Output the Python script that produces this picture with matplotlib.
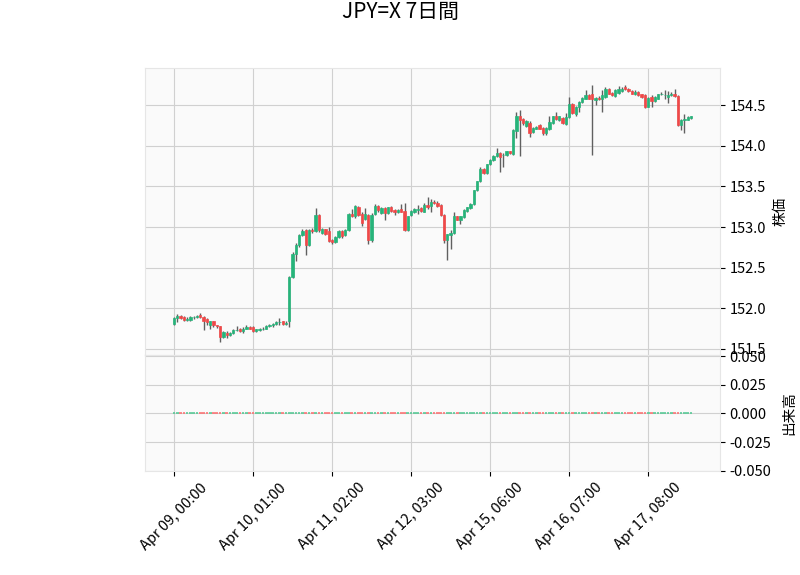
import numpy as np
import matplotlib
matplotlib.use("Agg")
import matplotlib.pyplot as plt
from matplotlib.ticker import FormatStrFormatter

plt.rcParams['font.family'] = ['Noto Sans CJK JP', 'DejaVu Sans']

# --- data: hourly JPY=X candles ---
opens = [
    151.81, 151.88, 151.91, 151.89, 151.86, 151.86, 151.89, 151.89, 151.92, 151.89,
    151.87, 151.79, 151.84, 151.79, 151.78, 151.65, 151.70, 151.67, 151.70, 151.73,
    151.74, 151.72, 151.75, 151.77, 151.77, 151.72, 151.73, 151.75, 151.75, 151.78,
    151.79, 151.81, 151.83, 151.84, 151.81, 151.84, 152.38, 152.67, 152.78, 152.90,
    152.96, 152.78, 152.96, 152.95, 153.15, 152.93, 152.97, 152.95, 152.84, 152.81,
    152.88, 152.95, 152.90, 152.96, 153.16, 153.13, 153.24, 153.16, 153.10, 153.15,
    152.84, 153.16, 153.26, 153.17, 153.23, 153.17, 153.25, 153.21, 153.18, 153.22,
    153.20, 152.96, 153.15, 153.18, 153.21, 153.23, 153.19, 153.27, 153.26, 153.31,
    153.30, 153.27, 153.15, 152.84, 152.90, 152.93, 153.13, 153.09, 153.12, 153.20,
    153.23, 153.28, 153.45, 153.57, 153.71, 153.66, 153.77, 153.82, 153.87, 153.91,
    153.88, 153.88, 153.93, 153.90, 154.18, 154.36, 154.33, 154.24, 154.28, 154.17,
    154.21, 154.25, 154.22, 154.15, 154.20, 154.28, 154.36, 154.31, 154.34, 154.27,
    154.35, 154.51, 154.39, 154.48, 154.54, 154.58, 154.62, 154.64, 154.56, 154.59,
    154.57, 154.60, 154.70, 154.65, 154.61, 154.65, 154.67, 154.72, 154.70, 154.67,
    154.63, 154.66, 154.63, 154.62, 154.48, 154.60, 154.55, 154.58, 154.63, 154.62,
    154.60, 154.62, 154.64, 154.61, 154.25, 154.32, 154.32, 154.34,
]
highs = [
    151.89, 151.93, 151.92, 151.90, 151.89, 151.90, 151.91, 151.92, 151.94, 151.90,
    151.88, 151.85, 151.85, 151.80, 151.78, 151.72, 151.72, 151.71, 151.74, 151.78,
    151.76, 151.77, 151.80, 151.78, 151.78, 151.75, 151.76, 151.77, 151.79, 151.81,
    151.82, 151.84, 151.88, 151.85, 151.85, 152.40, 152.69, 152.80, 152.91, 152.97,
    152.97, 152.98, 152.99, 153.23, 153.16, 152.99, 152.98, 153.00, 152.85, 152.89,
    152.96, 152.96, 152.97, 153.17, 153.22, 153.27, 153.26, 153.18, 153.23, 153.16,
    153.17, 153.28, 153.27, 153.24, 153.25, 153.25, 153.26, 153.22, 153.22, 153.28,
    153.29, 153.14, 153.21, 153.23, 153.27, 153.24, 153.29, 153.37, 153.34, 153.33,
    153.32, 153.28, 153.16, 152.92, 152.96, 153.19, 153.14, 153.14, 153.22, 153.25,
    153.30, 153.46, 153.57, 153.74, 153.72, 153.78, 153.84, 153.88, 153.97, 153.92,
    153.91, 153.94, 153.94, 154.20, 154.42, 154.44, 154.34, 154.32, 154.30, 154.23,
    154.24, 154.27, 154.23, 154.23, 154.36, 154.37, 154.42, 154.37, 154.35, 154.40,
    154.60, 154.52, 154.49, 154.55, 154.60, 154.68, 154.63, 154.75, 154.60, 154.61,
    154.68, 154.72, 154.71, 154.66, 154.70, 154.73, 154.72, 154.75, 154.71, 154.68,
    154.68, 154.67, 154.64, 154.63, 154.60, 154.62, 154.61, 154.64, 154.66, 154.68,
    154.67, 154.66, 154.70, 154.62, 154.33, 154.39, 154.36, 154.37,
]
lows = [
    151.80, 151.83, 151.87, 151.84, 151.85, 151.85, 151.87, 151.88, 151.88, 151.73,
    151.80, 151.75, 151.77, 151.76, 151.58, 151.63, 151.64, 151.66, 151.69, 151.72,
    151.71, 151.70, 151.74, 151.74, 151.71, 151.71, 151.72, 151.73, 151.74, 151.77,
    151.77, 151.80, 151.80, 151.79, 151.80, 151.77, 152.37, 152.58, 152.76, 152.89,
    152.65, 152.77, 152.93, 152.94, 152.94, 152.91, 152.90, 152.82, 152.79, 152.80,
    152.87, 152.87, 152.89, 152.95, 153.12, 153.11, 153.13, 153.01, 153.08, 152.79,
    152.82, 153.15, 153.19, 153.16, 153.09, 153.16, 153.19, 153.15, 153.17, 153.18,
    152.95, 152.95, 153.14, 153.17, 153.16, 153.19, 153.18, 153.22, 153.18, 153.28,
    153.25, 153.14, 152.80, 152.59, 152.73, 152.92, 153.08, 153.04, 153.11, 153.19,
    153.22, 153.27, 153.44, 153.55, 153.65, 153.65, 153.76, 153.81, 153.86, 153.68,
    153.74, 153.87, 153.90, 153.89, 154.10, 153.87, 154.26, 154.23, 154.11, 154.16,
    154.20, 154.20, 154.13, 154.13, 154.19, 154.27, 154.32, 154.30, 154.27, 154.25,
    154.34, 154.39, 154.37, 154.42, 154.53, 154.57, 154.57, 153.88, 154.50, 154.56,
    154.42, 154.59, 154.63, 154.61, 154.60, 154.64, 154.66, 154.69, 154.66, 154.63,
    154.62, 154.61, 154.59, 154.46, 154.47, 154.47, 154.54, 154.57, 154.62, 154.57,
    154.52, 154.61, 154.60, 154.24, 154.19, 154.15, 154.31, 154.33,
]
closes = [
    151.88, 151.90, 151.88, 151.86, 151.87, 151.89, 151.89, 151.90, 151.89, 151.85,
    151.83, 151.84, 151.79, 151.78, 151.65, 151.71, 151.67, 151.70, 151.73, 151.73,
    151.72, 151.75, 151.77, 151.75, 151.72, 151.74, 151.75, 151.75, 151.78, 151.80,
    151.81, 151.83, 151.83, 151.81, 151.82, 152.38, 152.67, 152.78, 152.90, 152.95,
    152.78, 152.96, 152.95, 153.15, 152.96, 152.98, 152.92, 152.83, 152.81, 152.88,
    152.95, 152.89, 152.96, 153.16, 153.13, 153.26, 153.15, 153.05, 153.16, 152.84,
    153.15, 153.26, 153.21, 153.23, 153.17, 153.24, 153.20, 153.18, 153.21, 153.19,
    152.96, 153.13, 153.20, 153.22, 153.22, 153.20, 153.27, 153.25, 153.31, 153.29,
    153.26, 153.15, 152.84, 152.91, 152.93, 153.13, 153.09, 153.13, 153.21, 153.24,
    153.28, 153.45, 153.56, 153.71, 153.67, 153.77, 153.83, 153.87, 153.91, 153.86,
    153.89, 153.93, 153.91, 154.19, 154.36, 154.32, 154.28, 154.30, 154.16, 154.22,
    154.23, 154.21, 154.15, 154.22, 154.29, 154.36, 154.33, 154.36, 154.28, 154.35,
    154.51, 154.40, 154.48, 154.54, 154.59, 154.62, 154.58, 154.57, 154.59, 154.57,
    154.62, 154.70, 154.64, 154.62, 154.68, 154.70, 154.70, 154.70, 154.67, 154.64,
    154.66, 154.62, 154.60, 154.47, 154.59, 154.55, 154.60, 154.63, 154.64, 154.62,
    154.62, 154.64, 154.61, 154.25, 154.32, 154.33, 154.35, 154.36,
]
# volume from Yahoo for FX is empty -> all zero
volumes = [0] * len(closes)

xtick_labels = ['Apr 09, 00:00', 'Apr 10, 01:00', 'Apr 11, 02:00', 'Apr 12, 03:00',
                'Apr 15, 06:00', 'Apr 16, 07:00', 'Apr 17, 08:00']
title = 'JPY=X 7日間'

# --- style (yahoo-like) ---
UP, DOWN = '#26b47a', '#f04848'
VOL_UP, VOL_DOWN = '#4dc790', '#fd6b6c'
WICK = '#606060'
FACE = '#fafafa'
GRID = '#d0d0d0'

o = np.array(opens)
h = np.array(highs)
l = np.array(lows)
c = np.array(closes)
x = np.arange(len(c))
up = c >= o
body_colors = np.where(up, UP, DOWN)
vol_colors = np.where(up, VOL_UP, VOL_DOWN)

fig = plt.figure(figsize=(8, 5.75), dpi=100)
ax = fig.add_axes([0.18125, 0.3826, 0.71875, 0.4991])
axv = fig.add_axes([0.18125, 0.1809, 0.71875, 0.2017], sharex=ax)

for a in (ax, axv):
    a.set_facecolor(FACE)
    a.grid(True, color=GRID, linewidth=0.8)
    a.set_axisbelow(True)
    for s in a.spines.values():
        s.set_color('#e6e6e6')
    a.yaxis.tick_right()
    a.yaxis.set_label_position('right')
    a.tick_params(labelsize=10.5)

# candles
ax.vlines(x, l, h, color=WICK, linewidth=1.0, zorder=2)
ax.bar(x, c - o, bottom=o, width=0.7, color=body_colors, edgecolor=body_colors,
       linewidth=0.5, zorder=3)

# volume (all zero -> thin coloured strokes on the zero line)
axv.bar(x, volumes, width=0.8, color=vol_colors, edgecolor=vol_colors, linewidth=1.1, zorder=3)

ax.set_xlim(-8.8, len(c) - 1 + 8.8)
ax.set_ylim(151.426, 154.955)
ax.set_yticks(np.arange(151.5, 154.51, 0.5))
ax.yaxis.set_major_formatter(FormatStrFormatter('%.1f'))
ax.tick_params(axis='x', labelbottom=False, length=0)
ax.set_ylabel('株価', fontsize=10.5, labelpad=5)

axv.set_ylim(-0.0502, 0.051)
axv.set_yticks([-0.05, -0.025, 0.0, 0.025, 0.05])
axv.yaxis.set_major_formatter(FormatStrFormatter('%.3f'))
axv.set_ylabel('出来高', fontsize=10.5, labelpad=8)
axv.set_xticks(np.arange(len(xtick_labels)) * 24)
axv.set_xticklabels(xtick_labels, rotation=45, ha='center', fontsize=10.5)

fig.suptitle(title, fontsize=15, y=0.999)

fig.savefig('out.png', dpi=100)
